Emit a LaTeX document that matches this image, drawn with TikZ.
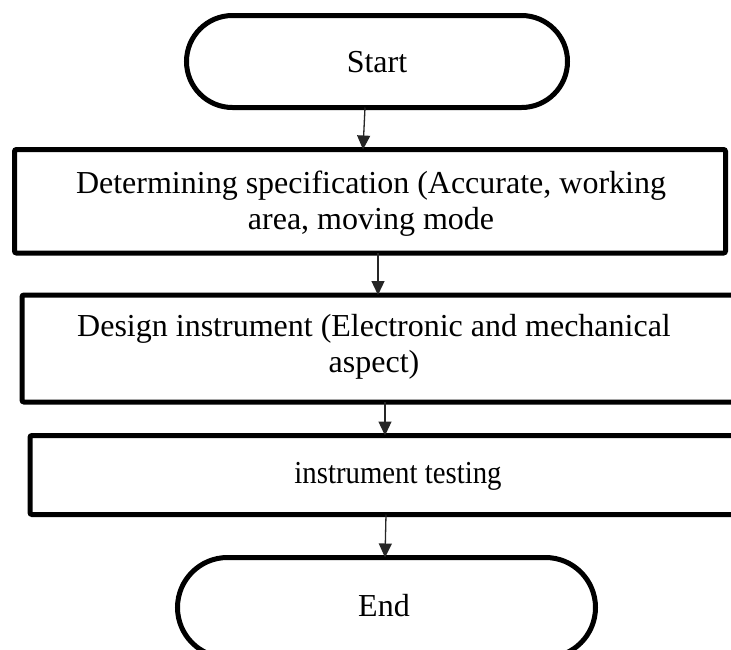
\documentclass[tikz,border=0pt]{standalone}
\usepackage{fontspec}
\setmainfont{Liberation Serif}
\usetikzlibrary{shapes.misc,arrows.meta}
\begin{document}
\begin{tikzpicture}[x=1pt,y=-1pt,
  term/.style={rounded rectangle, draw=black, line width=5pt, inner sep=0pt},
  procbox/.style={draw=black, line width=5pt, rounded corners=2pt},
  lbl/.style={font=\fontsize{32}{36}\selectfont, align=center, inner sep=0pt, text=black},
  flow/.style={draw=black!85, line width=1.3pt, -{Triangle[width=13pt,length=14pt]}}]
\clip (0,0) rectangle (731,649);
\fill[white] (0,0) rectangle (731,649);
% terminals
\node[term, minimum width=381pt, minimum height=92pt] (start) at (377,61.5) {};
\node[lbl] (starttext) at (377,62) {Start};
\node[term, minimum width=418pt, minimum height=100pt] (end) at (386.5,607.5) {};
\node[lbl] (endtext) at (384,606) {End};
% process boxes
\draw[procbox] (14.5,149.5) rectangle (725.5,253);
\coordinate (b1top) at (363,149.5);
\coordinate (b1bot) at (378,253);
\node[lbl] (t1) at (371,204) {Determining specification (Accurate, working\\area, moving mode};
\draw[procbox] (22,295) rectangle (745,402);
\coordinate (b2top) at (378,295);
\coordinate (b2bot) at (385,402);
\node[lbl] (t2) at (374,347) {Design instrument (Electronic and mechanical\\aspect)};
\draw[procbox] (30,435.5) rectangle (745,514.5);
\coordinate (b3top) at (385,435.5);
\coordinate (b3bot) at (386,514.5);
\node[lbl] (t3) at (398,476) {\scalebox{0.9}[1]{instrument testing}};
% connectors
\coordinate (s0) at (365,107.5);
\draw[flow] (s0) -- (b1top);
\draw[flow] (b1bot) -- (b2top);
\draw[flow] (b2bot) -- (b3top);
\coordinate (e0) at (385,557.5);
\draw[flow] (b3bot) -- (e0);
\end{tikzpicture}
\end{document}
